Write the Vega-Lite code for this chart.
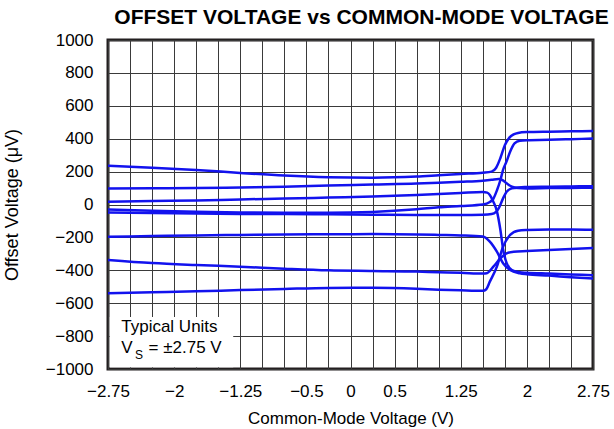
{
  "$schema": "https://vega.github.io/schema/vega-lite/v6.json",
  "width": 485,
  "height": 329,
  "autosize": {"type": "none"},
  "padding": {"left": 108, "top": 40, "right": 21, "bottom": 60},
  "background": "white",
  "config": {"view": {"stroke": "#231f20", "strokeWidth": 3}, "font": "Liberation Sans"},
  "title": {"text": "OFFSET VOLTAGE vs COMMON-MODE VOLTAGE", "fontSize": 21, "fontWeight": "bold", "font": "Liberation Sans", "color": "#000000", "anchor": "middle", "frame": "group", "offset": 3, "dx": 11},
  "layer": [
    {
      "data": {"values": [
        {"unit": "1", "v": -2.75, "mv": 236}, {"unit": "1", "v": -2.25, "mv": 224}, {"unit": "1", "v": -1.75, "mv": 210}, {"unit": "1", "v": -1.25, "mv": 192}, {"unit": "1", "v": -0.75, "mv": 176}, {"unit": "1", "v": -0.25, "mv": 166}, {"unit": "1", "v": 0.25, "mv": 163}, {"unit": "1", "v": 0.75, "mv": 170}, {"unit": "1", "v": 1.0, "mv": 178}, {"unit": "1", "v": 1.25, "mv": 186}, {"unit": "1", "v": 1.5, "mv": 193}, {"unit": "1", "v": 1.6, "mv": 200}, {"unit": "1", "v": 1.65, "mv": 222}, {"unit": "1", "v": 1.7, "mv": 283}, {"unit": "1", "v": 1.75, "mv": 360}, {"unit": "1", "v": 1.8, "mv": 405}, {"unit": "1", "v": 1.85, "mv": 426}, {"unit": "1", "v": 1.9, "mv": 435}, {"unit": "1", "v": 2.0, "mv": 440}, {"unit": "1", "v": 2.25, "mv": 443}, {"unit": "1", "v": 2.5, "mv": 445}, {"unit": "1", "v": 2.75, "mv": 447},
        {"unit": "2", "v": -2.75, "mv": 98}, {"unit": "2", "v": -2.25, "mv": 99}, {"unit": "2", "v": -1.75, "mv": 100}, {"unit": "2", "v": -1.25, "mv": 104}, {"unit": "2", "v": -0.75, "mv": 108}, {"unit": "2", "v": -0.25, "mv": 115}, {"unit": "2", "v": 0.25, "mv": 121}, {"unit": "2", "v": 0.75, "mv": 127}, {"unit": "2", "v": 1.0, "mv": 132}, {"unit": "2", "v": 1.25, "mv": 138}, {"unit": "2", "v": 1.5, "mv": 145}, {"unit": "2", "v": 1.6, "mv": 150}, {"unit": "2", "v": 1.68, "mv": 155}, {"unit": "2", "v": 1.72, "mv": 150}, {"unit": "2", "v": 1.77, "mv": 129}, {"unit": "2", "v": 1.83, "mv": 108}, {"unit": "2", "v": 1.9, "mv": 100}, {"unit": "2", "v": 2.0, "mv": 98}, {"unit": "2", "v": 2.25, "mv": 100}, {"unit": "2", "v": 2.5, "mv": 101}, {"unit": "2", "v": 2.75, "mv": 102},
        {"unit": "3", "v": -2.75, "mv": 17}, {"unit": "3", "v": -2.25, "mv": 21}, {"unit": "3", "v": -1.75, "mv": 24}, {"unit": "3", "v": -1.25, "mv": 31}, {"unit": "3", "v": -0.75, "mv": 36}, {"unit": "3", "v": -0.25, "mv": 42}, {"unit": "3", "v": 0.25, "mv": 48}, {"unit": "3", "v": 0.75, "mv": 58}, {"unit": "3", "v": 1.0, "mv": 64}, {"unit": "3", "v": 1.25, "mv": 70}, {"unit": "3", "v": 1.5, "mv": 76}, {"unit": "3", "v": 1.55, "mv": 72}, {"unit": "3", "v": 1.58, "mv": 58}, {"unit": "3", "v": 1.62, "mv": 17}, {"unit": "3", "v": 1.66, "mv": -40}, {"unit": "3", "v": 1.7, "mv": -155}, {"unit": "3", "v": 1.73, "mv": -270}, {"unit": "3", "v": 1.77, "mv": -355}, {"unit": "3", "v": 1.83, "mv": -398}, {"unit": "3", "v": 1.92, "mv": -412}, {"unit": "3", "v": 2.0, "mv": -415}, {"unit": "3", "v": 2.25, "mv": -420}, {"unit": "3", "v": 2.5, "mv": -425}, {"unit": "3", "v": 2.75, "mv": -430},
        {"unit": "4", "v": -2.75, "mv": -30}, {"unit": "4", "v": -2.25, "mv": -38}, {"unit": "4", "v": -1.75, "mv": -44}, {"unit": "4", "v": -1.25, "mv": -48}, {"unit": "4", "v": -0.75, "mv": -50}, {"unit": "4", "v": -0.25, "mv": -50}, {"unit": "4", "v": 0.25, "mv": -45}, {"unit": "4", "v": 0.75, "mv": -29}, {"unit": "4", "v": 1.0, "mv": -17}, {"unit": "4", "v": 1.25, "mv": -9}, {"unit": "4", "v": 1.5, "mv": 0}, {"unit": "4", "v": 1.58, "mv": 15}, {"unit": "4", "v": 1.62, "mv": 35}, {"unit": "4", "v": 1.66, "mv": 85}, {"unit": "4", "v": 1.7, "mv": 149}, {"unit": "4", "v": 1.73, "mv": 210}, {"unit": "4", "v": 1.77, "mv": 262}, {"unit": "4", "v": 1.81, "mv": 321}, {"unit": "4", "v": 1.86, "mv": 372}, {"unit": "4", "v": 1.92, "mv": 388}, {"unit": "4", "v": 2.0, "mv": 391}, {"unit": "4", "v": 2.25, "mv": 393}, {"unit": "4", "v": 2.5, "mv": 397}, {"unit": "4", "v": 2.75, "mv": 401},
        {"unit": "5", "v": -2.75, "mv": -48}, {"unit": "5", "v": -2.25, "mv": -52}, {"unit": "5", "v": -1.75, "mv": -55}, {"unit": "5", "v": -1.25, "mv": -57}, {"unit": "5", "v": -0.75, "mv": -58}, {"unit": "5", "v": -0.25, "mv": -60}, {"unit": "5", "v": 0.25, "mv": -62}, {"unit": "5", "v": 0.75, "mv": -64}, {"unit": "5", "v": 1.0, "mv": -64}, {"unit": "5", "v": 1.25, "mv": -64}, {"unit": "5", "v": 1.5, "mv": -62}, {"unit": "5", "v": 1.6, "mv": -58}, {"unit": "5", "v": 1.65, "mv": -45}, {"unit": "5", "v": 1.68, "mv": -23}, {"unit": "5", "v": 1.73, "mv": 37}, {"unit": "5", "v": 1.77, "mv": 78}, {"unit": "5", "v": 1.83, "mv": 98}, {"unit": "5", "v": 1.9, "mv": 104}, {"unit": "5", "v": 2.0, "mv": 106}, {"unit": "5", "v": 2.25, "mv": 108}, {"unit": "5", "v": 2.5, "mv": 110}, {"unit": "5", "v": 2.75, "mv": 111},
        {"unit": "6", "v": -2.75, "mv": -196}, {"unit": "6", "v": -2.25, "mv": -192}, {"unit": "6", "v": -1.75, "mv": -188}, {"unit": "6", "v": -1.25, "mv": -185}, {"unit": "6", "v": -0.75, "mv": -182}, {"unit": "6", "v": -0.25, "mv": -181}, {"unit": "6", "v": 0.25, "mv": -180}, {"unit": "6", "v": 0.75, "mv": -182}, {"unit": "6", "v": 1.0, "mv": -185}, {"unit": "6", "v": 1.25, "mv": -188}, {"unit": "6", "v": 1.5, "mv": -195}, {"unit": "6", "v": 1.58, "mv": -226}, {"unit": "6", "v": 1.66, "mv": -287}, {"unit": "6", "v": 1.73, "mv": -357}, {"unit": "6", "v": 1.81, "mv": -398}, {"unit": "6", "v": 1.92, "mv": -418}, {"unit": "6", "v": 2.0, "mv": -424}, {"unit": "6", "v": 2.25, "mv": -432}, {"unit": "6", "v": 2.5, "mv": -442}, {"unit": "6", "v": 2.75, "mv": -450},
        {"unit": "7", "v": -2.75, "mv": -337}, {"unit": "7", "v": -2.25, "mv": -356}, {"unit": "7", "v": -1.75, "mv": -368}, {"unit": "7", "v": -1.25, "mv": -378}, {"unit": "7", "v": -0.75, "mv": -390}, {"unit": "7", "v": -0.25, "mv": -400}, {"unit": "7", "v": 0.25, "mv": -404}, {"unit": "7", "v": 0.75, "mv": -408}, {"unit": "7", "v": 1.0, "mv": -412}, {"unit": "7", "v": 1.25, "mv": -415}, {"unit": "7", "v": 1.5, "mv": -420}, {"unit": "7", "v": 1.545, "mv": -418}, {"unit": "7", "v": 1.62, "mv": -378}, {"unit": "7", "v": 1.7, "mv": -327}, {"unit": "7", "v": 1.77, "mv": -297}, {"unit": "7", "v": 1.85, "mv": -287}, {"unit": "7", "v": 2.0, "mv": -283}, {"unit": "7", "v": 2.25, "mv": -277}, {"unit": "7", "v": 2.5, "mv": -271}, {"unit": "7", "v": 2.75, "mv": -265},
        {"unit": "8", "v": -2.75, "mv": -540}, {"unit": "8", "v": -2.25, "mv": -534}, {"unit": "8", "v": -1.75, "mv": -528}, {"unit": "8", "v": -1.25, "mv": -520}, {"unit": "8", "v": -0.75, "mv": -513}, {"unit": "8", "v": -0.25, "mv": -507}, {"unit": "8", "v": 0.25, "mv": -506}, {"unit": "8", "v": 0.75, "mv": -512}, {"unit": "8", "v": 1.0, "mv": -518}, {"unit": "8", "v": 1.25, "mv": -522}, {"unit": "8", "v": 1.5, "mv": -525}, {"unit": "8", "v": 1.54, "mv": -515}, {"unit": "8", "v": 1.58, "mv": -469}, {"unit": "8", "v": 1.66, "mv": -378}, {"unit": "8", "v": 1.73, "mv": -257}, {"unit": "8", "v": 1.81, "mv": -185}, {"unit": "8", "v": 1.9, "mv": -159}, {"unit": "8", "v": 2.0, "mv": -155}, {"unit": "8", "v": 2.25, "mv": -152}, {"unit": "8", "v": 2.5, "mv": -152}, {"unit": "8", "v": 2.75, "mv": -154}
      ]},
      "mark": {"type": "line", "interpolate": "monotone", "color": "#1212ee", "strokeWidth": 2.5, "clip": true},
      "encoding": {
        "x": {
          "field": "v", "type": "quantitative",
          "scale": {"domain": [-2.75, 2.75], "nice": false, "zero": false},
          "axis": {
            "values": [-2.75, -2.5, -2.25, -2, -1.75, -1.5, -1.25, -1, -0.75, -0.5, -0.25, 0, 0.25, 0.5, 0.75, 1, 1.25, 1.5, 1.75, 2, 2.25, 2.5, 2.75],
            "tickCount": 100,
            "labelExpr": "indexof([-2.75, -2, -1.25, -0.5, 0, 0.5, 1.25, 2, 2.75], datum.value) >= 0 ? format(datum.value, '') : ''",
            "grid": true, "gridColor": "#3a3a3a", "gridWidth": 1, "domain": false, "ticks": false,
            "labelFontSize": 17, "labelColor": "#000000", "labelPadding": 14, "labelOverlap": false, "labelFlush": false,
            "title": "Common-Mode Voltage (V)", "titleFontSize": 17, "titleFontWeight": "normal", "titleColor": "#000000", "titlePadding": 11
          }
        },
        "y": {
          "field": "mv", "type": "quantitative",
          "scale": {"domain": [-1000, 1000], "nice": false, "zero": false},
          "axis": {
            "values": [-1000, -800, -600, -400, -200, 0, 200, 400, 600, 800, 1000],
            "tickCount": 100,
            "format": "d",
            "grid": true, "gridColor": "#3a3a3a", "gridWidth": 1, "domain": false, "ticks": false,
            "labelFontSize": 17, "labelColor": "#000000", "labelPadding": 15, "labelOverlap": false,
            "title": "Offset Voltage (μV)", "titleFontSize": 18, "titleFontWeight": "normal", "titleColor": "#000000", "titlePadding": 24
          }
        },
        "detail": {"field": "unit", "type": "nominal"}
      }
    },
    {
      "data": {"values": [{"v": -2.73, "v2": -1.33, "mv": -990, "mv2": -684}]},
      "mark": {"type": "rect", "fill": "white", "stroke": null},
      "encoding": {
        "x": {"field": "v", "type": "quantitative"},
        "x2": {"field": "v2"},
        "y": {"field": "mv", "type": "quantitative"},
        "y2": {"field": "mv2"}
      }
    },
    {
      "data": {"values": [
        {"v": -2.6, "mv": -745, "t": "Typical Units"},
        {"v": -2.6, "mv": -872, "t": "V"},
        {"v": -2.29, "mv": -872, "t": "= ±2.75 V"}
      ]},
      "mark": {"type": "text", "align": "left", "baseline": "middle", "fontSize": 17, "font": "Liberation Sans", "color": "#000000"},
      "encoding": {
        "x": {"field": "v", "type": "quantitative"},
        "y": {"field": "mv", "type": "quantitative"},
        "text": {"field": "t"}
      }
    },
    {
      "data": {"values": [{"v": -2.445, "mv": -912, "t": "S"}]},
      "mark": {"type": "text", "align": "left", "baseline": "middle", "fontSize": 12, "font": "Liberation Sans", "color": "#000000"},
      "encoding": {
        "x": {"field": "v", "type": "quantitative"},
        "y": {"field": "mv", "type": "quantitative"},
        "text": {"field": "t"}
      }
    }
  ]
}
